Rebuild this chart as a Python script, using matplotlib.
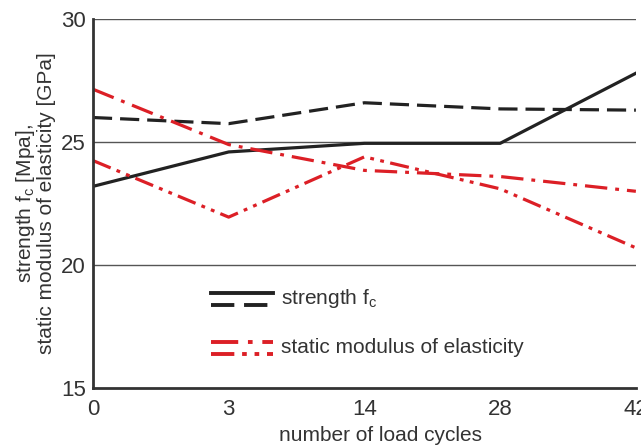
import matplotlib
matplotlib.use("Agg")
import matplotlib.pyplot as plt
from matplotlib.lines import Line2D

plt.rcParams['font.family'] = ['Liberation Sans', 'DejaVu Sans']

# data
cycles = ["0", "3", "14", "28", "42"]
strength_a = [23.2, 24.6, 24.95, 24.95, 27.8]
strength_b = [26.0, 25.75, 26.6, 26.35, 26.3]
modulus_a = [27.15, 24.9, 23.85, 23.6, 23.0]
modulus_b = [24.25, 21.95, 24.4, 23.1, 20.7]

black = '#222222'
red = '#dc1f26'
lw = 2.3
fs = 15

class TwoLineHandler:
    # draw a tuple of two lines stacked one above the other
    def legend_artist(self, legend, orig_handle, fontsize, handlebox):
        x0, y0 = handlebox.xdescent, handlebox.ydescent
        w, h = handlebox.width, handlebox.height
        artists = []
        for i, ln in enumerate(orig_handle):
            yy = y0 + h * (1.0 - 1.0 * i)
            a = Line2D([x0, x0 + w], [yy, yy])
            a.update_from(ln)
            a.set_transform(handlebox.get_transform())
            a.set_clip_on(False)
            a.set_linewidth(2.8)
            handlebox.add_artist(a)
            artists.append(a)
        return artists[0]

fig = plt.figure(figsize=(6.41, 4.45), dpi=100)
ax = fig.add_axes([0.145, 0.128, 0.847, 0.829])

x = range(len(cycles))
l1, = ax.plot(x, strength_a, color=black, lw=lw, ls='-')
l2, = ax.plot(x, strength_b, color=black, lw=lw, ls=(0, (6, 2.5)))
l3, = ax.plot(x, modulus_a, color=red, lw=lw, ls=(0, (7, 2.5, 1.2, 2.5)))
l4, = ax.plot(x, modulus_b, color=red, lw=lw, ls=(0, (6, 2, 1.2, 2, 1.2, 2)))

for yv in [20, 25, 30]:
    ax.axhline(yv, color='#555555', lw=1.0, zorder=0)

ax.set_xlim(0, len(cycles) - 1)
ax.set_ylim(15, 30)
ax.set_xticks(list(x))
ax.set_xticklabels(cycles)
ax.set_yticks([15, 20, 25, 30])
ax.tick_params(length=0, labelsize=16, colors='#333333')
ax.tick_params(axis='x', pad=8)
ax.tick_params(axis='y', pad=5)

for s in ['top', 'right']:
    ax.spines[s].set_visible(False)
for s in ['left', 'bottom']:
    ax.spines[s].set_color('#333333')
    ax.spines[s].set_linewidth(2.0)

ax.set_xlabel("number of load cycles", fontsize=fs, color='#333333', labelpad=4)
ax.xaxis.label.set_x(0.53)
ax.set_ylabel("strength f$_\\mathregular{c}$ [Mpa],\nstatic modulus of elasticity [GPa]",
              fontsize=fs, color='#333333', linespacing=0.95, labelpad=4)

leg = ax.legend([(l1, l2), (l3, l4)],
                ["strength f$_\\mathregular{c}$", "static modulus of elasticity"],
                handler_map={tuple: TwoLineHandler()},
                loc='lower left', bbox_to_anchor=(0.182, 0.033),
                frameon=False, fontsize=fs, handlelength=3.0, handleheight=0.55,
                labelspacing=1.35, handletextpad=0.4)
for t in leg.get_texts():
    t.set_color('#333333')

fig.savefig("out.png", dpi=100)
